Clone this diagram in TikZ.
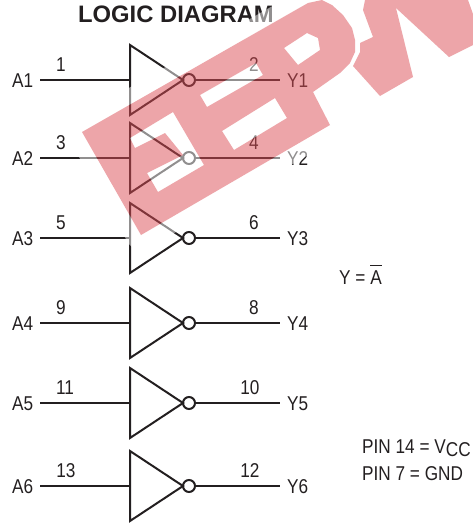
\documentclass[tikz,border=0pt]{standalone}
\usepackage{fontspec}
\setmainfont{Liberation Sans}
\newfontfamily\condfont[FakeStretch=0.86]{Liberation Sans}
\definecolor{ink}{HTML}{231F20}
\definecolor{wm}{rgb}{0.86,0.30,0.33}
\tikzset{
  wire/.style={draw=ink,line width=2pt},
  gatebody/.style={draw=ink,line width=2pt,line join=miter},
  bubble/.style={circle,draw=ink,fill=none,line width=2pt,minimum size=12pt,inner sep=0pt},
  lab/.style={inner sep=0pt,text=ink,font=\condfont\fontsize{20}{20}\selectfont},
}
\newcommand{\wmglyphs}{
  (82,132) -- (308,3) -- (322,0) -- (332,5) -- (343,15) -- (352,28) -- (355,40) -- (355,52) -- (350,63) -- (340,73) -- (313,92) -- (330,125) -- (141,235) -- cycle
  (130,138) -- (173,112) -- (204,165) -- (158,192) -- (147,173) -- (183,155) -- (165,133) -- (135,148) -- cycle
  (200,95) -- (207,107) -- (263,75) -- (256,63) -- cycle
  (222,131) -- (275,98) -- (287,118) -- (234,150) -- cycle
  (284,48) -- (307,33) -- (318,38) -- (320,50) -- (298,65) -- cycle
  (365,0) -- (363,10) -- (373,37) -- (360,43) -- (360,52) -- (353,66) -- (380,96) -- (413,77) -- (396,8) -- (449,57) -- (473,45) -- (473,14) -- (468,0) -- cycle
}
\begin{document}
\begin{tikzpicture}[x=1pt,y=-1pt]
\useasboundingbox (0,0) rectangle (473,523);
\node[inner sep=0pt,anchor=base,text=ink,font=\bfseries\fontsize{23.8}{23.8}\selectfont] (title) at (176,22) {LOGIC DIAGRAM};
\foreach \i/\y/\pa/\pb/\xa/\xb in {1/80/1/2/61/254,2/158/3/4/61/254,3/238/5/6/61/254,4/323/9/8/61/254,5/403/11/10/65/250,6/486/13/12/66/250}{
  \coordinate (tl\i) at (130,\y-35);
  \coordinate (bl\i) at (130,\y+35);
  \coordinate (ap\i) at (183,\y);
  \coordinate (in\i) at (130,\y);
  \node[bubble] (bub\i) at (189,\y) {};
  \node[lab,anchor=base west] (A\i) at (12,\y+7) {A\i};
  \node[lab,anchor=base west] (Y\i) at (287,\y+7) {Y\i};
  \coordinate (from\i) at (40,\y);
  \coordinate (to\i) at (280,\y);
  \node[lab,anchor=base] (pa\i) at (\xa,\y-9) {\pa};
  \node[lab,anchor=base] (pb\i) at (\xb,\y-9) {\pb};
  \draw[gatebody] (tl\i) -- (ap\i) -- (bl\i) -- cycle;
  \draw[wire] (from\i) -- (in\i);
  \draw[wire] (bub\i) -- (to\i);
}
\node[lab,anchor=base west] (eq) at (339,284) {Y = \rlap{\raisebox{18pt}{\rule{12pt}{1pt}}}A};
\node[lab,anchor=base west] (pinv) at (362,453) {PIN 14 = V\raisebox{-3pt}{CC}};
\node[lab,anchor=base west] (ping) at (362,480) {PIN 7 = GND};
\begin{scope}
\clip (0,0) rectangle (473,523);
\begin{scope}[transparency group,opacity=0.5]
  \draw[white,fill=white,line width=30pt,line join=round] \wmglyphs;
  \fill[white] (82,132) -- (308,3) -- (473,3) -- (473,45) -- (141,235) -- cycle;
  \fill[wm,even odd rule] \wmglyphs;
\end{scope}
\end{scope}
\end{tikzpicture}
\end{document}
